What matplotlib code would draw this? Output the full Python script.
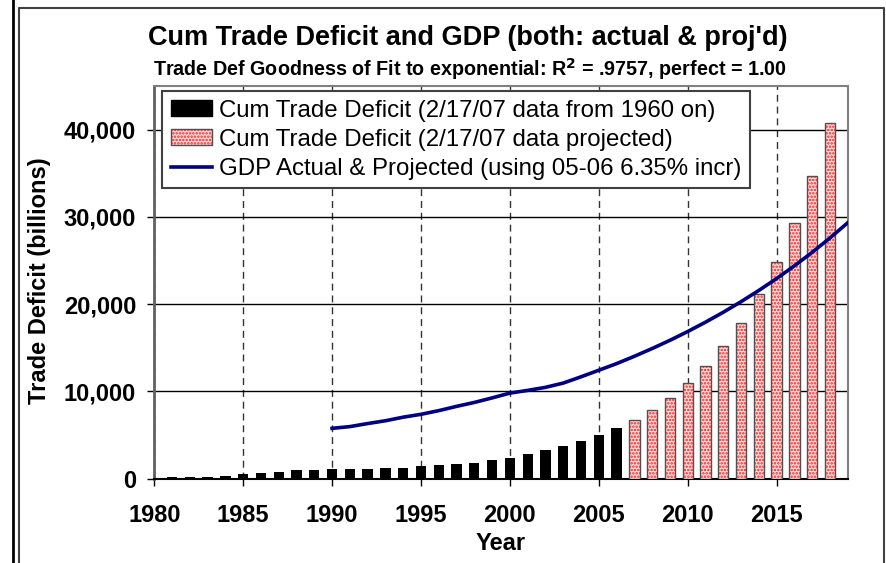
import matplotlib
matplotlib.use("Agg")
import matplotlib.pyplot as plt
import matplotlib.patches as mpatches
from matplotlib.lines import Line2D
from matplotlib.ticker import FuncFormatter

plt.rcParams['font.family'] = ['Liberation Sans', 'DejaVu Sans']
plt.rcParams['hatch.linewidth'] = 1.2

# Cumulative trade deficit, actual (billions)
years_actual = list(range(1981, 2007))
deficit_actual = [190, 200, 220, 340, 490, 650, 780, 930, 940, 1090, 1100, 1110, 1240,
                  1250, 1390, 1550, 1660, 1820, 2080, 2380, 2800, 3250, 3670, 4250,
                  4940, 5810]

# Cumulative trade deficit, projected
years_proj = list(range(2007, 2019))
deficit_proj = [6720, 7870, 9200, 10920, 12940, 15240, 17790, 21110, 24860, 29320,
                34630, 40810]

# GDP actual & projected
years_gdp = list(range(1990, 2020))
gdp = [5750, 5950, 6300, 6620, 7030, 7360, 7780, 8270, 8720, 9240, 9790, 10100, 10450,
       10940, 11660, 12410, 13170, 14010, 14900, 15840, 16850, 17920, 19060, 20270,
       21560, 22920, 24380, 25930, 27570, 29320]

x_ticks = list(range(1980, 2016, 5))
y_ticks = list(range(0, 40001, 10000))

PINK_FACE = '#ffdcdc'
PINK_DOTS = '#ff2020'

W, H = 886, 563
fig = plt.figure(figsize=(W / 100, H / 100), dpi=100)
ax = fig.add_axes([154.3 / W, 1 - 478.5 / H, (847.7 - 154.3) / W, (478.5 - 86) / H])

bw = 0.58
ax.bar(years_actual, deficit_actual, width=bw, color='black', zorder=3)
ax.bar(years_proj, deficit_proj, width=bw, facecolor=PINK_FACE, edgecolor=PINK_DOTS,
       hatch='.....', linewidth=0, zorder=3)
ax.bar(years_proj, deficit_proj, width=bw, fill=False, edgecolor='#505050',
       linewidth=1, zorder=3)
ax.plot(years_gdp, gdp, color='#000080', linewidth=2.6, zorder=4)

ax.set_xlim(1980, 2019)
ax.set_ylim(0, 45000)
ax.set_xticks(x_ticks)
ax.set_yticks(y_ticks)
ax.yaxis.set_major_formatter(FuncFormatter(lambda v, p: f"{int(v):,}"))

for lab in ax.get_xticklabels() + ax.get_yticklabels():
    lab.set_fontweight('bold')
    lab.set_fontsize(17)
ax.tick_params(axis='x', direction='out', length=5, width=1, pad=13)
ax.tick_params(axis='y', direction='out', length=5, width=1, pad=8)

ax.set_axisbelow(True)
ax.yaxis.grid(True, color='black', linewidth=1)
ax.xaxis.grid(True, color='#333333', linewidth=1, linestyle=(0, (5, 3.5)))

for s in ['left', 'top', 'right']:
    ax.spines[s].set_color('#808080')
    ax.spines[s].set_linewidth(1.5)
ax.spines['left'].set_color('#606060')
ax.spines['left'].set_linewidth(2)
ax.spines['bottom'].set_color('black')
ax.spines['bottom'].set_linewidth(1.5)

h_actual = mpatches.Patch(facecolor='black', edgecolor='black')
h_proj = (mpatches.Patch(facecolor=PINK_FACE, edgecolor=PINK_DOTS, hatch='.....', linewidth=0),
          mpatches.Patch(fill=False, edgecolor='#505050', linewidth=1))
h_gdp = Line2D([], [], color='#000080', linewidth=2.6)
leg = ax.legend([h_actual, h_proj, h_gdp],
                ["Cum Trade Deficit (2/17/07 data from 1960 on)",
                 "Cum Trade Deficit (2/17/07 data projected)",
                 "GDP Actual & Projected (using 05-06 6.35% incr)"],
                loc='upper left', bbox_to_anchor=(0.0115, 0.987), borderaxespad=0,
                fontsize=17.3, fancybox=False, framealpha=1, edgecolor='#404040',
                handlelength=1.72, handleheight=0.65, handletextpad=0.3,
                borderpad=0.35, labelspacing=0.3)
leg.get_frame().set_linewidth(1.5)
leg.set_zorder(5)

fig.text(468 / W, 1 - 38 / H, "Cum Trade Deficit and GDP (both: actual & proj'd)",
         ha='center', va='center', fontsize=19.5, fontweight='bold')
fig.text(470 / W, 1 - 69 / H,
         "Trade Def Goodness of Fit to exponential: R$^\\mathbf{2}$ = .9757, perfect = 1.00",
         ha='center', va='center', fontsize=14.2, fontweight='bold')
fig.text(40 / W, 1 - 281 / H, "Trade Deficit (billions)", rotation=90,
         ha='center', va='center', fontsize=17, fontweight='bold')
fig.text(501 / W, 1 - 543 / H, "Year", ha='center', va='center',
         fontsize=17, fontweight='bold')

# outer frame lines
fig.add_artist(Line2D([13 / W, 13 / W], [0, 1], color='black', linewidth=2))
fig.add_artist(Line2D([18.5 / W, 18.5 / W, 884 / W, 884 / W], [0, 1 - 8 / H, 1 - 8 / H, 0],
                      color='#404040', linewidth=1.5))

fig.savefig("out.png", dpi=100)
